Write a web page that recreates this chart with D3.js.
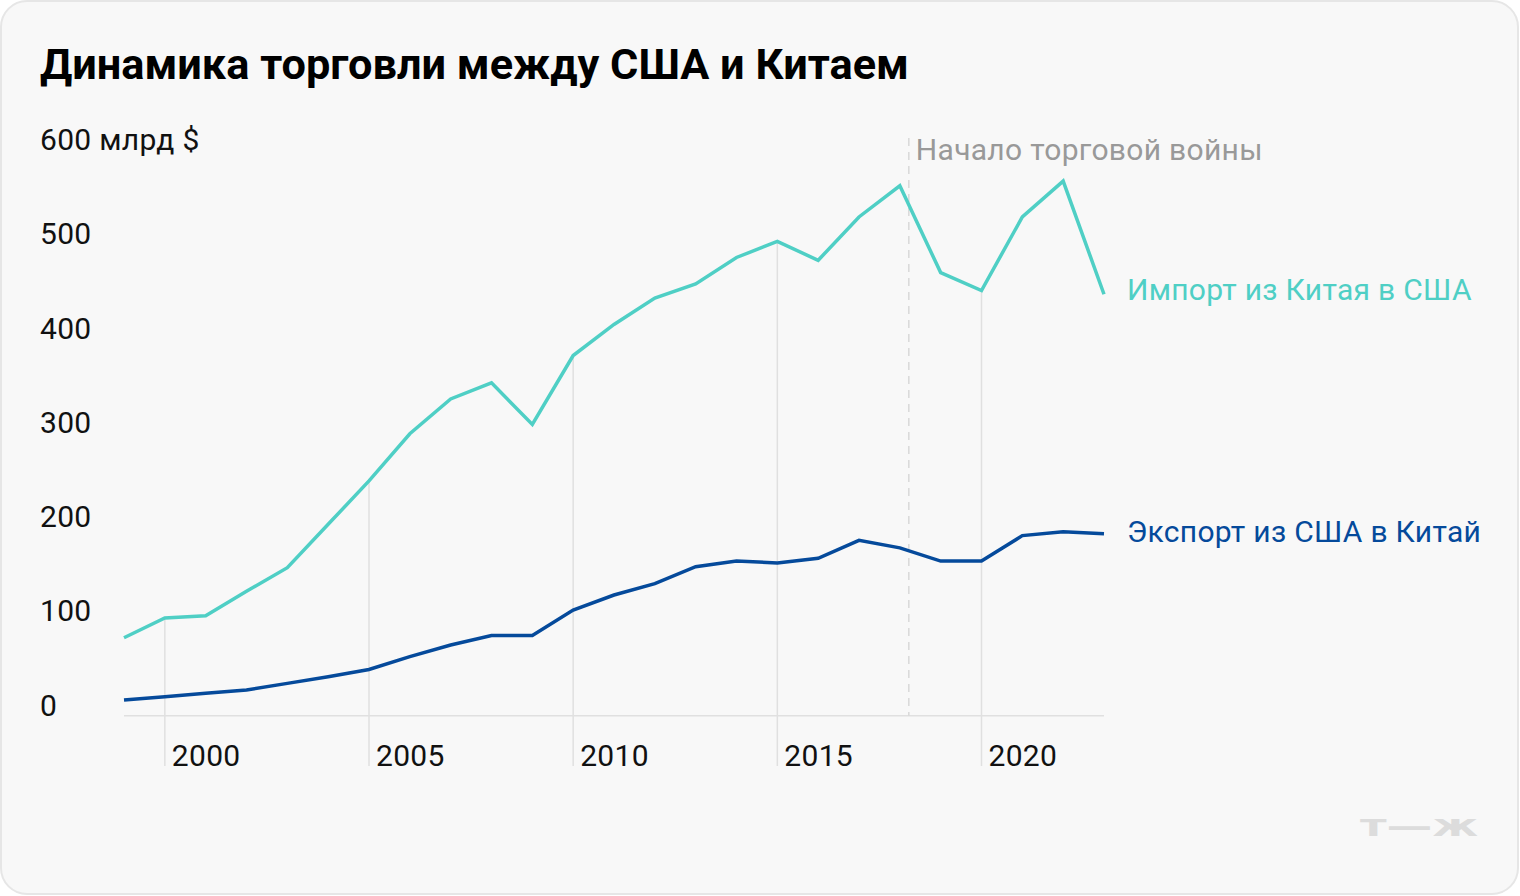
<!DOCTYPE html>
<html>
<head>
<meta charset="utf-8">
<script src="https://cdn.jsdelivr.net/npm/d3@7"></script>
<style>
  html, body { margin: 0; padding: 0; background: #ffffff; }
  svg { display: block; }
</style>
</head>
<body>
<svg id="chart" width="1520" height="896"></svg>
<script>
// ---- data ----
const years = [1999,2000,2001,2002,2003,2004,2005,2006,2007,2008,2009,2010,2011,2012,2013,2014,2015,2016,2017,2018,2019,2020,2021,2022,2023];
const imports = [82.7,103.6,106,132,157,203,249,299,336,353,309,382,415,443,458,486,503,483,529,562,470,451,529,567,447];
const exports = [16.7,20,23.8,27.3,34.3,41.4,49,62.6,75,85,85,112,128,140,158,164,162,167,186,178,164,164,191,195,193];
const yTicks = [0,100,200,300,400,500,600];
const yTickLabels = ["0","100","200","300","400","500","600 млрд $"];
const xTicks = [2000,2005,2010,2015,2020];
const warStart = 2018.22;
const title = "Динамика торговли между США и Китаем";
const warLabel = "Начало торговой войны";
const importLabel = "Импорт из Китая в США";
const exportLabel = "Экспорт из США в Китай";

// ---- layout ----
const font = "Roboto, 'Noto Sans', sans-serif";
const fs = 30, ls = 0.3;
const svg = d3.select("#chart");
const x = d3.scaleLinear().domain([1999, 2023]).range([124, 1104]);
const y = d3.scaleLinear().domain([0, 600]).range([715.7, 150]);

svg.append("rect")
  .attr("x", 1).attr("y", 1).attr("width", 1517).attr("height", 893)
  .attr("rx", 26).attr("ry", 26)
  .attr("fill", "#f8f8f8").attr("stroke", "#e6e6e6").attr("stroke-width", 2);

svg.append("text")
  .attr("x", 40).attr("y", 79)
  .attr("font-family", font).attr("font-weight", 700).attr("font-size", 43.3)
  .attr("fill", "#000").text(title);

// vertical gridlines from import line down
const impAt = new Map(years.map((yr, i) => [yr, imports[i]]));
svg.append("g").selectAll("line").data(xTicks).join("line")
  .attr("x1", d => x(d)).attr("x2", d => x(d))
  .attr("y1", d => y(impAt.get(d))).attr("y2", 766)
  .attr("stroke", "#e0e0e0").attr("stroke-width", 1.5);

// x labels
svg.append("g").selectAll("text").data(xTicks).join("text")
  .attr("x", d => x(d) + 7).attr("y", 766)
  .attr("font-family", font).attr("font-size", fs).attr("letter-spacing", ls).attr("fill", "#111")
  .text(d => d);

// baseline
svg.append("line")
  .attr("x1", x(1999)).attr("x2", x(2023))
  .attr("y1", y(0)).attr("y2", y(0))
  .attr("stroke", "#e0e0e0").attr("stroke-width", 1.5);

// y labels
svg.append("g").selectAll("text").data(yTicks).join("text")
  .attr("x", 40).attr("y", d => y(d))
  .attr("font-family", font).attr("font-size", fs).attr("letter-spacing", ls).attr("fill", "#111")
  .text((d, i) => yTickLabels[i]);

// trade war dashed line
svg.append("line")
  .attr("x1", x(warStart)).attr("x2", x(warStart))
  .attr("y1", 138).attr("y2", y(0))
  .attr("stroke", "#d8d8d8").attr("stroke-width", 1.5)
  .attr("stroke-dasharray", "8,6");
svg.append("text")
  .attr("x", x(warStart) + 7).attr("y", 160)
  .attr("font-family", font).attr("font-size", fs).attr("letter-spacing", ls).attr("fill", "#999")
  .text(warLabel);

// lines
const line = d3.line().x((d, i) => x(years[i])).y(d => y(d));
svg.append("path").datum(imports)
  .attr("d", line).attr("fill", "none")
  .attr("stroke", "#4fcfc5").attr("stroke-width", 3.5)
  .attr("stroke-linejoin", "miter");
svg.append("path").datum(exports)
  .attr("d", line).attr("fill", "none")
  .attr("stroke", "#054a9b").attr("stroke-width", 3.5)
  .attr("stroke-linejoin", "miter");

// series labels
svg.append("text")
  .attr("x", 1127).attr("y", 300)
  .attr("font-family", font).attr("font-size", fs).attr("letter-spacing", ls).attr("fill", "#4fcfc5")
  .text(importLabel);
svg.append("text")
  .attr("x", 1127).attr("y", 542)
  .attr("font-family", font).attr("font-size", fs).attr("letter-spacing", ls).attr("fill", "#054a9b")
  .text(exportLabel);

// logo
svg.append("text")
  .attr("x", 1360).attr("y", 836)
  .attr("font-family", "'DejaVu Sans', sans-serif").attr("font-weight", 700).attr("font-size", 30)
  .attr("fill", "#dcdcdc")
  .attr("textLength", 118).attr("lengthAdjust", "spacingAndGlyphs")
  .text("т—ж");
</script>
</body>
</html>
